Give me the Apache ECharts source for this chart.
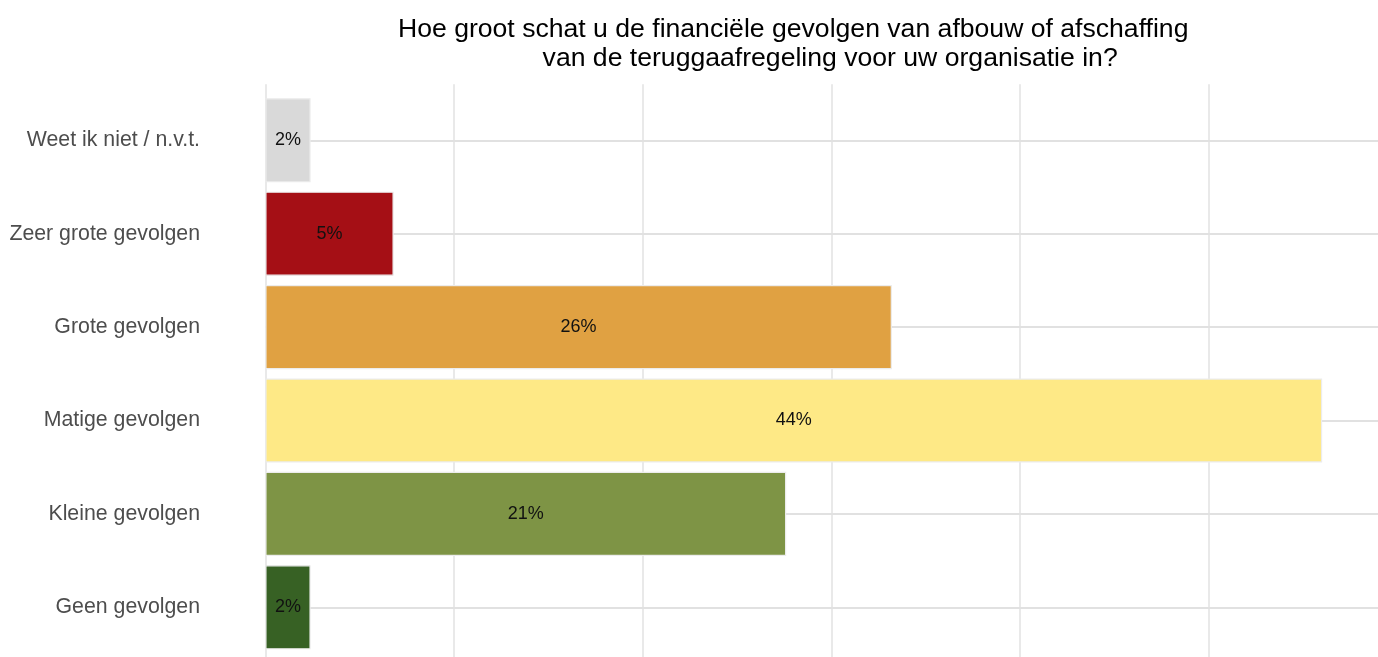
<!DOCTYPE html>
<html>
<head>
<meta charset="utf-8">
<script src="https://cdn.jsdelivr.net/npm/echarts@6/dist/echarts.min.js"></script>
<style>html,body{margin:0;padding:0;background:#fff;}#c{width:1378px;height:657px;}</style>
</head>
<body>
<div id="c"></div>
<script>
const categories = ['Weet ik niet / n.v.t.', 'Zeer grote gevolgen', 'Grote gevolgen', 'Matige gevolgen', 'Kleine gevolgen', 'Geen gevolgen'];
const counts = [2.4, 6.8, 33.2, 56.0, 27.6, 2.4];
const pctLabels = ['2%', '5%', '26%', '44%', '21%', '2%'];
const colors = ['#d9d9d9', '#a50f15', '#e0a142', '#fee986', '#7e9445', '#376124'];
const titleLine1 = 'Hoe groot schat u de financiële gevolgen van afbouw of afschaffing';
const titleLine2 = '          van de teruggaafregeling voor uw organisatie in?';

const FONT = 'Liberation Sans, Arial, sans-serif';
const chart = echarts.init(document.getElementById('c'), null, {renderer: 'canvas'});
const gridLeft = 212.5, gridRight = 3;
const gridWidth = 1378 - gridLeft - gridRight;

chart.setOption({
  animation: false,
  backgroundColor: '#fff',
  title: {
    text: titleLine1 + '\n' + titleLine2,
    left: 788.2,
    top: 9.5,
    textAlign: 'center',
    textStyle: {fontFamily: FONT, fontSize: 26.6, fontWeight: 'normal', color: '#000', lineHeight: 29.5}
  },
  grid: [
    {left: gridLeft, right: gridRight, top: 93.6, bottom: 3, containLabel: false, outerBoundsMode: 'none'},
    {left: gridLeft, right: gridRight, top: 84.3, bottom: -8, containLabel: false, outerBoundsMode: 'none'}
  ],
  xAxis: [
    {gridIndex: 0, type: 'value', min: -2.8, max: 58.8,
     axisLabel: {show: false}, axisLine: {show: false}, axisTick: {show: false}, splitLine: {show: false}},
    {gridIndex: 1, type: 'value', min: -2.8, max: 58.8,
     axisLabel: {show: false}, axisLine: {show: false}, axisTick: {show: false},
     splitLine: {show: true, showMinLine: false, showMaxLine: false, lineStyle: {color: '#e9e9e9', width: 2}}}
  ],
  yAxis: [
    {gridIndex: 0, type: 'category', inverse: true, data: categories,
     axisLine: {show: false},
     axisTick: {show: true, alignWithLabel: true, inside: true, length: gridWidth, lineStyle: {color: '#e1e1e1', width: 2}},
     axisLabel: {margin: 12.5, color: '#4d4d4d', fontSize: 21.3, fontFamily: FONT},
     splitLine: {show: false}},
    {gridIndex: 1, type: 'value', show: false, min: 0, max: 1}
  ],
  series: [{
    type: 'bar',
    xAxisIndex: 0, yAxisIndex: 0,
    barCategoryGap: '10%',
    data: counts.map((v, i) => ({value: v, itemStyle: {color: colors[i]}})),
    itemStyle: {borderColor: '#ececec', borderWidth: 1.2},
    label: {
      show: true, position: 'inside', color: '#111', fontSize: 18, fontFamily: FONT,
      formatter: p => pctLabels[p.dataIndex]
    },
    z: 3
  }]
});
</script>
</body>
</html>
